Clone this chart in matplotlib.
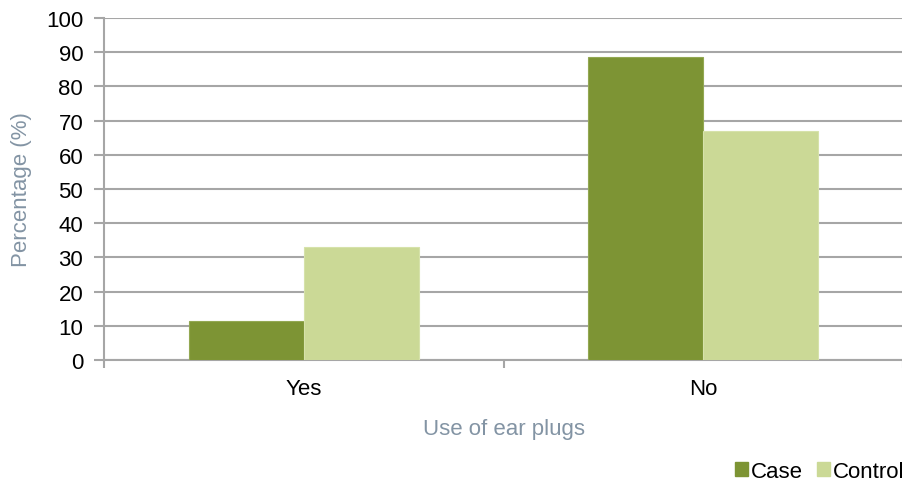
import numpy as np
import matplotlib.pyplot as plt
from matplotlib.patches import Patch

plt.rcParams['font.family'] = ['Liberation Sans', 'DejaVu Sans']

categories = ['Yes', 'No']
case_pct = [11.4, 88.6]
control_pct = [33.1, 66.9]
yticks = [0, 10, 20, 30, 40, 50, 60, 70, 80, 90, 100]

case_color = '#7d9434'
control_color = '#cbd996'
grid_color = '#a6a6a6'
label_color = '#8394a4'
fs = 16

fig = plt.figure(figsize=(9.03, 4.81), dpi=100)
ax = fig.add_axes([0.1152, 0.2495, 0.8848, 0.711])

x = np.arange(len(categories))
w = 0.2875
ax.bar(x - w / 2, case_pct, w, color=case_color, edgecolor='#93a853', linewidth=0.8, zorder=3)
ax.bar(x + w / 2, control_pct, w, color=control_color, edgecolor='#d6e2aa', linewidth=0.8, zorder=3)

ax.set_xlim(-0.5, 1.5)
ax.set_ylim(0, 100)
ax.set_yticks(yticks)
ax.yaxis.grid(True, color=grid_color, linewidth=1.5, zorder=0)
ax.set_axisbelow(True)

# category ticks sit on the boundaries, labels in the middle
ax.set_xticks([-0.5, 0.5, 1.5])
ax.set_xticklabels([])
ax.set_xticks(x, minor=True)
ax.set_xticklabels(categories, minor=True, fontsize=fs)
ax.tick_params(axis='x', which='minor', length=0, pad=13)
ax.tick_params(axis='x', which='major', length=6, width=1.5, color=grid_color)
ax.tick_params(axis='y', length=7, width=1.5, color=grid_color, labelsize=fs, pad=8)

for side in ['top', 'right']:
    ax.spines[side].set_visible(False)
for side in ['left', 'bottom']:
    ax.spines[side].set_color(grid_color)
    ax.spines[side].set_linewidth(1.5)

ax.set_ylabel('Percentage (%)', fontsize=fs, color=label_color, labelpad=10)
ax.set_xlabel('Use of ear plugs', fontsize=fs, color=label_color, labelpad=14)

handles = [Patch(color=case_color, label='Case'), Patch(color=control_color, label='Control')]
fig.legend(handles=handles, loc='lower right', bbox_to_anchor=(1.024, -0.045), ncol=2,
           frameon=False, fontsize=fs, handlelength=0.6, handleheight=0.6,
           handletextpad=0.15, columnspacing=0.6)

fig.savefig('out.png', dpi=100)
